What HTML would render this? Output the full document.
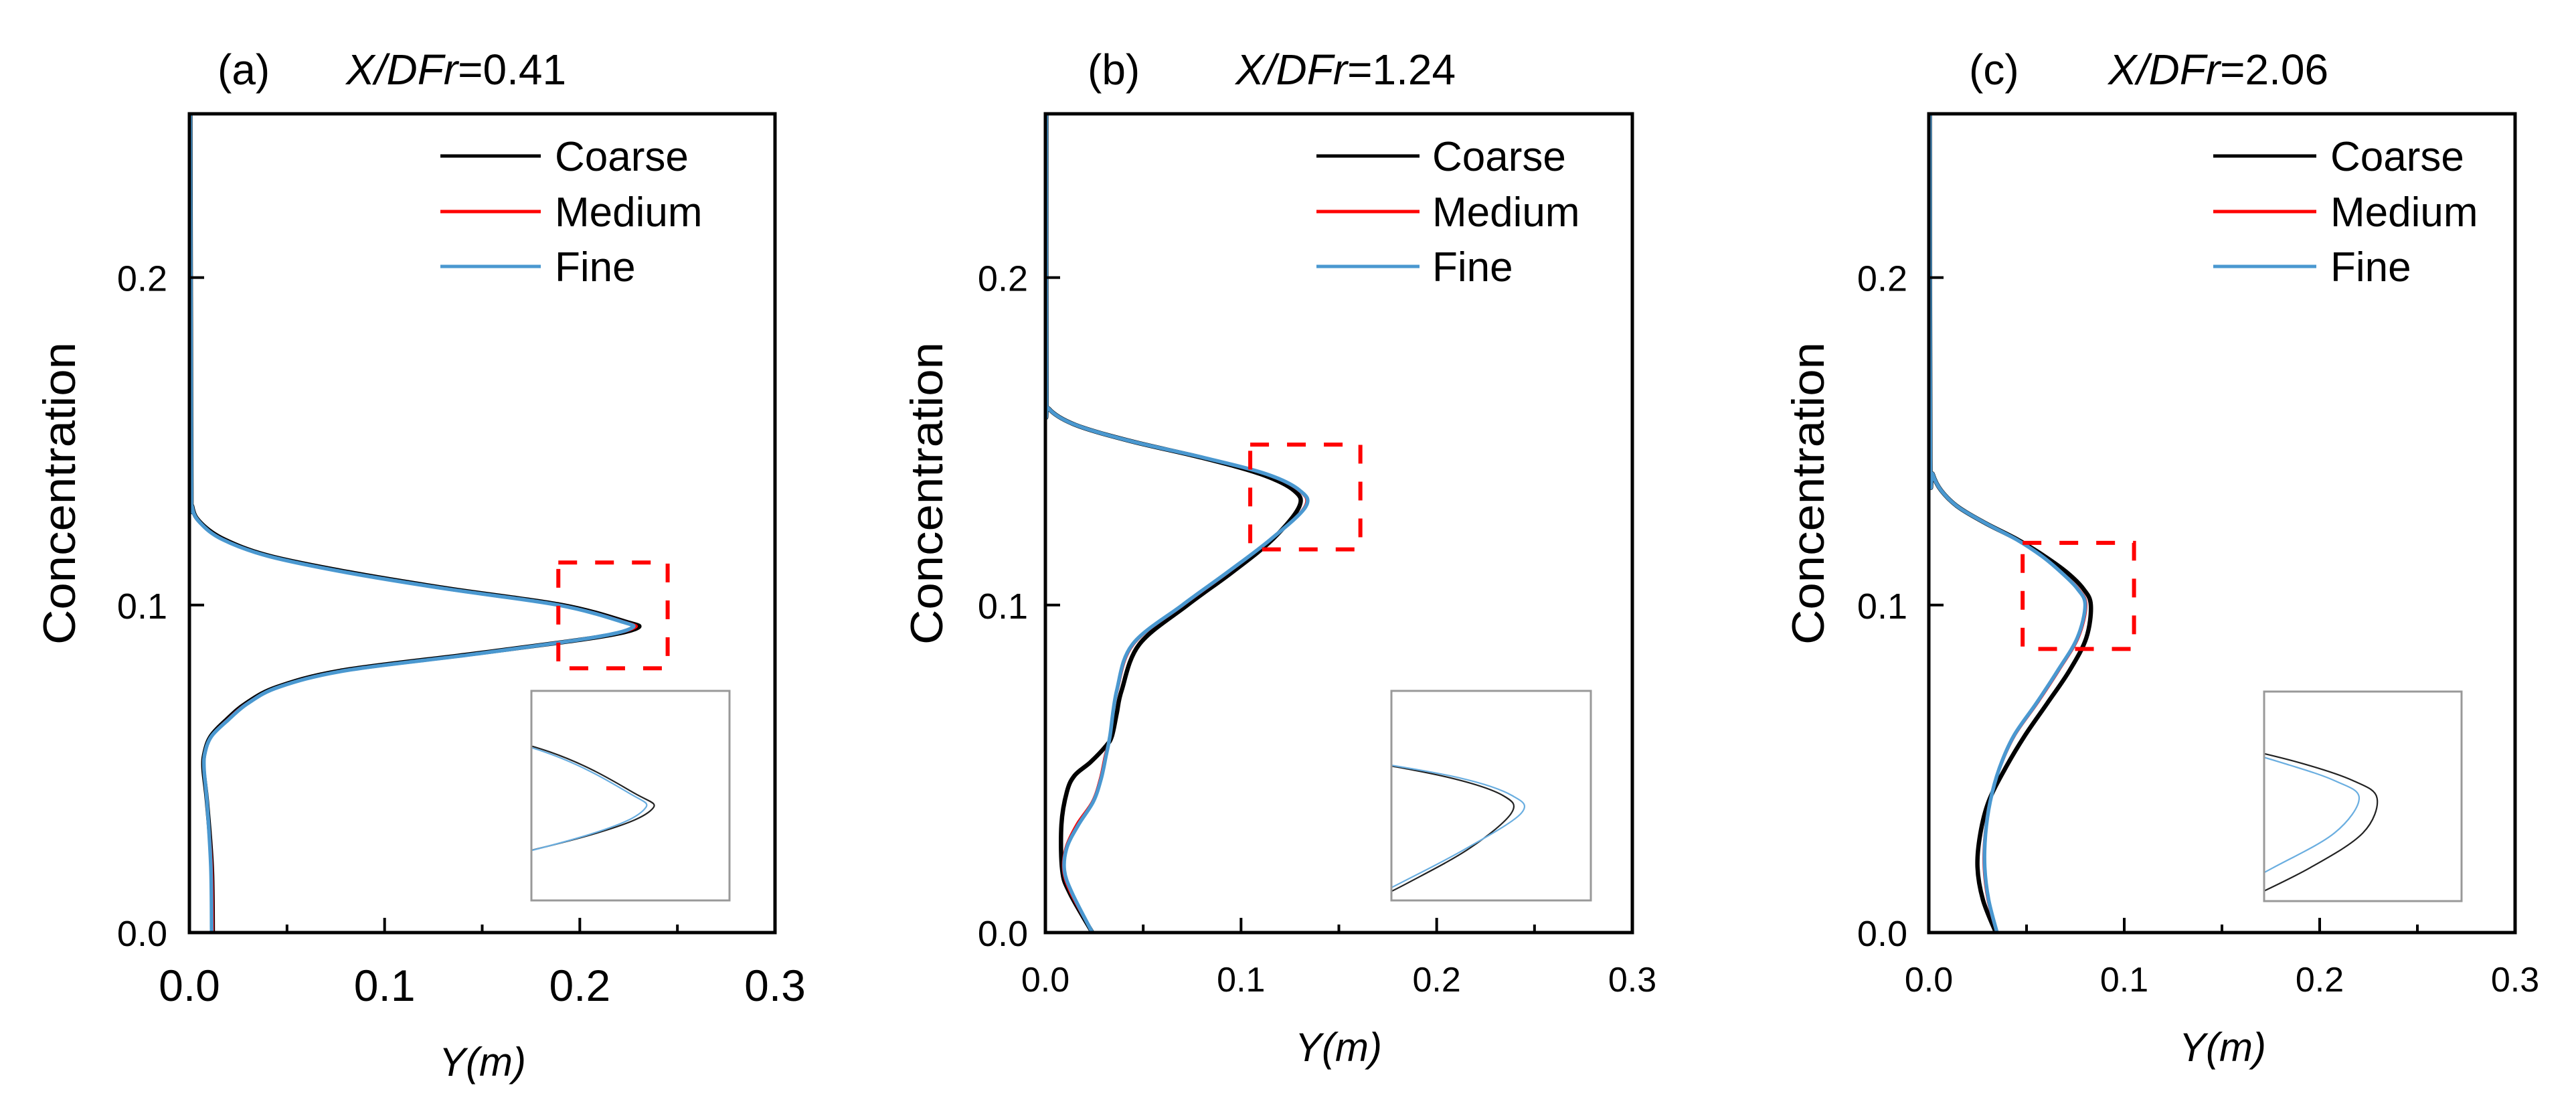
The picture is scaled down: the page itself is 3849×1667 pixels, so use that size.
<!DOCTYPE html>
<html><head><meta charset="utf-8">
<style>
html,body{margin:0;padding:0;background:#fff;overflow:hidden;width:3849px;height:1667px;}
svg{display:block;font-family:"Liberation Sans",Arial,sans-serif;}
</style></head>
<body>
<svg id="fig" width="3849" height="1667" viewBox="0 0 3849 1667" xmlns="http://www.w3.org/2000/svg"></svg>
<script>
// ---------- DATA ----------
const xTicks = [0, 0.1, 0.2, 0.3];
const xTickLabels = ["0.0", "0.1", "0.2", "0.3"];
const xMinorTicks = [0.05, 0.15, 0.25];
const yTicks = [0, 0.1, 0.2];
const yTickLabels = ["0.0", "0.1", "0.2"];
const seriesNames = ["Coarse", "Medium", "Fine"];
const panelTitles = ["X/DFr=0.41", "X/DFr=1.24", "X/DFr=2.06"];
const panelLetters = ["(a)", "(b)", "(c)"];

const aCoarse = [[0,0.012],[0.02,0.0115],[0.04,0.009],[0.05,0.0072],[0.055,0.0078],[0.06,0.011],[0.065,0.019],[0.07,0.029],[0.075,0.045],[0.08,0.078],[0.085,0.144],[0.09,0.207],[0.093,0.2295],[0.095,0.223],[0.1,0.191],[0.105,0.133],[0.11,0.082],[0.115,0.041],[0.12,0.018],[0.125,0.006],[0.13,0.0015],[0.14,0.001],[0.25,0.0005]];
const aMedium = [[0,0.012],[0.02,0.0115],[0.04,0.009],[0.05,0.0073],[0.055,0.0079],[0.06,0.0112],[0.065,0.0195],[0.07,0.0295],[0.075,0.0455],[0.08,0.079],[0.085,0.145],[0.09,0.2065],[0.093,0.228],[0.095,0.222],[0.1,0.19],[0.105,0.132],[0.11,0.081],[0.115,0.0405],[0.12,0.0175],[0.125,0.0058],[0.13,0.0014],[0.14,0.001],[0.25,0.0005]];
const aFine = [[0,0.0114],[0.02,0.011],[0.04,0.009],[0.05,0.0075],[0.055,0.008],[0.06,0.0114],[0.065,0.02],[0.07,0.03],[0.075,0.046],[0.08,0.08],[0.085,0.146],[0.09,0.206],[0.093,0.2266],[0.095,0.221],[0.1,0.189],[0.105,0.131],[0.11,0.08],[0.115,0.04],[0.12,0.017],[0.125,0.0057],[0.13,0.0014],[0.14,0.001],[0.25,0.0005]];

const bCoarse = [[0,0.024],[0.012,0.0125],[0.019,0.0086],[0.033,0.0082],[0.043,0.011],[0.048,0.015],[0.052,0.023],[0.057,0.031],[0.06,0.034],[0.067,0.0365],[0.074,0.039],[0.088,0.048],[0.1,0.0726],[0.11,0.0954],[0.12,0.116],[0.13,0.1297],[0.135,0.127],[0.14,0.11],[0.145,0.08],[0.15,0.044],[0.155,0.0154],[0.16,0.0017],[0.165,0.0006],[0.25,0.0005]];
const bMedium = [[0,0.024],[0.012,0.013],[0.019,0.0092],[0.026,0.0105],[0.033,0.016],[0.04,0.024],[0.047,0.028],[0.054,0.0305],[0.06,0.033],[0.074,0.0368],[0.088,0.045],[0.1,0.0705],[0.11,0.0935],[0.12,0.1152],[0.13,0.1325],[0.135,0.1295],[0.14,0.1125],[0.145,0.0808],[0.15,0.044],[0.155,0.0154],[0.16,0.0017],[0.165,0.0006],[0.25,0.0005]];
const bFine = [[0,0.024],[0.012,0.0137],[0.019,0.0097],[0.026,0.011],[0.033,0.017],[0.04,0.0245],[0.047,0.0285],[0.054,0.031],[0.06,0.033],[0.074,0.0365],[0.088,0.0445],[0.1,0.07],[0.11,0.093],[0.12,0.115],[0.13,0.133],[0.135,0.130],[0.14,0.113],[0.145,0.081],[0.15,0.044],[0.155,0.0154],[0.16,0.0017],[0.165,0.0006],[0.25,0.0005]];

const cCoarse = [[0,0.0343],[0.01,0.0277],[0.02,0.0249],[0.03,0.0263],[0.04,0.0306],[0.05,0.039],[0.06,0.049],[0.07,0.0606],[0.08,0.072],[0.09,0.0806],[0.1,0.0829],[0.105,0.079],[0.11,0.0706],[0.115,0.059],[0.12,0.0454],[0.125,0.029],[0.13,0.0149],[0.135,0.0063],[0.14,0.002],[0.145,0.0008],[0.25,0.0005]];
const cMedium = [[0,0.0347],[0.01,0.0302],[0.02,0.0282],[0.03,0.0287],[0.04,0.0312],[0.05,0.0362],[0.06,0.0438],[0.07,0.0555],[0.08,0.0665],[0.09,0.0765],[0.1,0.0805],[0.105,0.0765],[0.11,0.068],[0.115,0.058],[0.12,0.045],[0.125,0.029],[0.13,0.0149],[0.135,0.0063],[0.14,0.002],[0.145,0.0008],[0.25,0.0005]];
const cFine = [[0,0.0349],[0.01,0.0306],[0.02,0.0286],[0.03,0.029],[0.04,0.0314],[0.05,0.036],[0.06,0.0434],[0.07,0.055],[0.08,0.066],[0.09,0.076],[0.1,0.08],[0.105,0.076],[0.11,0.0677],[0.115,0.0577],[0.12,0.0449],[0.125,0.029],[0.13,0.0149],[0.135,0.0063],[0.14,0.002],[0.145,0.0008],[0.25,0.0005]];

// zoom boxes [xmin,xmax,ymin,ymax]
const aZoom = [0.189, 0.245, 0.0807, 0.113];
const bZoom = [0.1047, 0.161, 0.117, 0.149];
const cZoom = [0.048, 0.105, 0.0866, 0.119];
// inset view ranges [xmin,xmax,ymin,ymax]
const aInset = [0.184, 0.259, 0.082, 0.1074];
const bInset = [0.09, 0.156, 0.105, 0.165];
const cInset = [0.0646, 0.0966, 0.0705, 0.1305];

// ---------- LAYOUT ----------
const NS = "http://www.w3.org/2000/svg";
const svg = document.getElementById("fig");
const colors = ["#000000", "#ff0000", "#4a98d0"];
const widths = [6.5, 4, 5.5];
const layouts = [
  {L:283,R:1158,T:170,B:1393,letterX:325,titleX:517,legLine:[658,808],legText:829,yTickR:250,ylabX:112,xlabX:721,xlabY:1607,xTickFont:66,xTickY:1495,inset:[794,1032,1090,1345],key:"a"},
  {L:1562,R:2439,T:170,B:1393,letterX:1625,titleX:1846,legLine:[1967,2121],legText:2140,yTickR:1536,ylabX:1408,xlabX:2000,xlabY:1585,xTickFont:52,xTickY:1481,inset:[2079,1032,2377,1345],key:"b"},
  {L:2882,R:3758,T:170,B:1393,letterX:2942,titleX:3150,legLine:[3307,3461],legText:3482,yTickR:2850,ylabX:2725,xlabX:3321,xlabY:1585,xTickFont:52,xTickY:1481,inset:[3383,1033,3678,1346],key:"c"}
];
const panelData = [[aCoarse,aMedium,aFine],[bCoarse,bMedium,bFine],[cCoarse,cMedium,cFine]];
const zooms = [aZoom,bZoom,cZoom];
const insetRanges = [aInset,bInset,cInset];
const XMAX = 0.3, YMAX = 0.25;

function mk(tag, attrs, parent){
  const e = document.createElementNS(NS, tag);
  for (const k in attrs) e.setAttribute(k, attrs[k]);
  (parent||svg).appendChild(e);
  return e;
}
function smoothPath(pts){
  let d = "M" + pts[0][0].toFixed(2) + "," + pts[0][1].toFixed(2);
  for (let i=0;i<pts.length-1;i++){
    const p0 = pts[Math.max(0,i-1)], p1 = pts[i], p2 = pts[i+1], p3 = pts[Math.min(pts.length-1,i+2)];
    const c1x = p1[0]+(p2[0]-p0[0])/6, c1y = p1[1]+(p2[1]-p0[1])/6;
    const c2x = p2[0]-(p3[0]-p1[0])/6, c2y = p2[1]-(p3[1]-p1[1])/6;
    d += " C"+c1x.toFixed(2)+","+c1y.toFixed(2)+" "+c2x.toFixed(2)+","+c2y.toFixed(2)+" "+p2[0].toFixed(2)+","+p2[1].toFixed(2);
  }
  return d;
}

layouts.forEach((P, pi) => {
  const g = mk("g", {});
  
  
  const sx = v => P.L + (v / XMAX) * (P.R - P.L);
  const sy = v => P.B - (v / YMAX) * (P.B - P.T);

  const t1 = mk("text", {x:P.letterX, y:126, "font-size":64, fill:"#000"}, g);
  t1.textContent = panelLetters[pi];
  
  
  const t2 = mk("text", {x:P.titleX, y:126, "font-size":64, fill:"#000"}, g);
  
  
  const parts = panelTitles[pi].split("=");
  const ts1 = mk("tspan", {"font-style":"italic"}, t2); ts1.textContent = parts[0];
  const ts2 = mk("tspan", {}, t2); ts2.textContent = "=" + parts[1];

  const cid = "clip"+P.key;
  const cp = mk("clipPath", {id:cid}, g);
  mk("rect", {x:P.L, y:P.T, width:P.R-P.L, height:P.B-P.T}, cp);
  const cg = mk("g", {"clip-path":"url(#"+cid+")"}, g);
  panelData[pi].forEach((ser, si) => {
    const pts = ser.map(p => [sx(p[1]), sy(p[0])]);
    const path = mk("path", {d:smoothPath(pts), fill:"none", stroke:colors[si], "stroke-width":widths[si], "stroke-linejoin":"round", "stroke-linecap":"round"}, cg);
    
    
  });

  const z = zooms[pi];
  const zb = mk("rect", {x:sx(z[0]), y:sy(z[3]), width:sx(z[1])-sx(z[0]), height:sy(z[2])-sy(z[3]), fill:"none", stroke:"#ff0000", "stroke-width":6, "stroke-dasharray":"28,27"}, g);
  
  

  const [ix0, iy0, ix1, iy1] = P.inset;
  const zr = insetRanges[pi];
  const icid = "iclip"+P.key;
  const icp = mk("clipPath", {id:icid}, g);
  mk("rect", {x:ix0, y:iy0, width:ix1-ix0, height:iy1-iy0}, icp);
  mk("rect", {x:ix0, y:iy0, width:ix1-ix0, height:iy1-iy0, fill:"#fff", stroke:"none"}, g);
  const ig = mk("g", {"clip-path":"url(#"+icid+")"}, g);
  
  
  const isx = v => ix0 + (v - zr[0]) / (zr[1]-zr[0]) * (ix1-ix0);
  const isy = v => iy1 - (v - zr[2]) / (zr[3]-zr[2]) * (iy1-iy0);
  [0,2].forEach(si => {
    const ser = panelData[pi][si];
    const pts = ser.map(p => [isx(p[1]), isy(p[0])]);
    const path = mk("path", {d:smoothPath(pts), fill:"none", stroke: si===0?"#222":"#6aaee0", "stroke-width":2.2}, ig);
    
    
  });
  const ib = mk("rect", {x:ix0, y:iy0, width:ix1-ix0, height:iy1-iy0, fill:"none", stroke:"#999", "stroke-width":3}, g);
  
  

  const fr = mk("rect", {x:P.L, y:P.T, width:P.R-P.L, height:P.B-P.T, fill:"none", stroke:"#000", "stroke-width":5}, g);
  
  

  xTicks.forEach((v, i) => {
    mk("line", {x1:sx(v), x2:sx(v), y1:P.B, y2:P.B-22, stroke:"#000", "stroke-width":4}, g);
    const tl = mk("text", {x:sx(v), y:P.xTickY, "font-size":P.xTickFont, "text-anchor":"middle", fill:"#000"}, g);
    tl.textContent = xTickLabels[i];
    
    
  });
  xMinorTicks.forEach(v => {
    mk("line", {x1:sx(v), x2:sx(v), y1:P.B, y2:P.B-12, stroke:"#000", "stroke-width":4}, g);
  });
  yTicks.forEach((v, i) => {
    if (v > 0) mk("line", {x1:P.L, x2:P.L+22, y1:sy(v), y2:sy(v), stroke:"#000", "stroke-width":4}, g);
    const tl = mk("text", {x:P.yTickR, y:sy(v)+20, "font-size":54, "text-anchor":"end", fill:"#000"}, g);
    tl.textContent = yTickLabels[i];
    
    
  });

  const xl = mk("text", {x:P.xlabX, y:P.xlabY, "font-size":60, "font-style":"italic", "text-anchor":"middle", fill:"#000"}, g);
  xl.textContent = "Y(m)";
  
  
  const yl = mk("text", {x:0, y:0, "font-size":68, "text-anchor":"middle", fill:"#000", transform:"translate("+P.ylabX+",737) rotate(-90)", textLength:452, lengthAdjust:"spacingAndGlyphs"}, g);
  yl.textContent = "Concentration";
  
  

  const legY = [255, 338, 420];
  seriesNames.forEach((n, si) => {
    const lg = mk("g", {}, g);
    
    
    mk("line", {x1:P.legLine[0], x2:P.legLine[1], y1:legY[si]-22, y2:legY[si]-22, stroke:colors[si], "stroke-width":5}, lg);
    const lt = mk("text", {x:P.legText, y:legY[si], "font-size":62, fill:"#000"}, lg);
    lt.textContent = n;
  });
});
</script>
</body></html>
